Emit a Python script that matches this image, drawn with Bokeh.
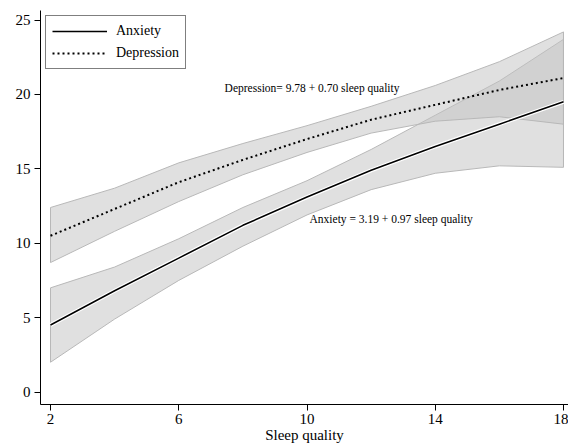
from bokeh.plotting import figure
from bokeh.models import Range1d, FixedTicker, Legend, LegendItem, Label
from bokeh.embed import file_html
from bokeh.resources import INLINE

# Data
sleep_quality = [2, 4, 6, 8, 10, 12, 14, 16, 18]
anxiety = [4.5, 6.8, 9.0, 11.2, 13.1, 14.9, 16.5, 18.0, 19.5]
anxiety_upper = [7.0, 8.4, 10.3, 12.4, 14.2, 16.3, 18.6, 20.9, 23.7]
anxiety_lower = [2.0, 4.9, 7.5, 9.8, 11.9, 13.6, 14.7, 15.2, 15.1]
depression = [10.5, 12.3, 14.1, 15.6, 17.0, 18.3, 19.3, 20.3, 21.1]
depression_upper = [12.4, 13.7, 15.4, 16.7, 17.9, 19.2, 20.6, 22.2, 24.2]
depression_lower = [8.7, 10.8, 12.8, 14.6, 16.1, 17.4, 18.2, 18.5, 18.0]
x_ticks = [2, 6, 10, 14, 18]
y_ticks = [0, 5, 10, 15, 20, 25]
series_names = ["Anxiety", "Depression"]
eq_depression = "Depression= 9.78 + 0.70 sleep quality"
eq_anxiety = "Anxiety = 3.19 + 0.97 sleep quality"
x_title = "Sleep quality"

FONT = "Liberation Serif"

p = figure(width=568, height=445, output_backend="svg", toolbar_location=None,
           x_range=Range1d(1.688, 18.156), y_range=Range1d(-0.84, 25.64),
           min_border_left=40, min_border_right=0, min_border_top=10, min_border_bottom=41)
p.outline_line_color = None
p.background_fill_color = "white"
p.border_fill_color = "white"
p.xgrid.visible = False
p.ygrid.visible = False

# Confidence bands
def band(lower, upper):
    xs = list(sleep_quality) + list(reversed(sleep_quality))
    ys = list(upper) + list(reversed(lower))
    p.patch(xs, ys, fill_color="#c1c1c1", fill_alpha=0.5,
            line_color="#b8b8b8", line_width=1)

band(anxiety_lower, anxiety_upper)
band(depression_lower, depression_upper)

# Lines
p.line(sleep_quality, anxiety, line_color="white", line_width=4)
l_anx = p.line(sleep_quality, anxiety, line_color="black", line_width=1.6)
l_dep = p.line(sleep_quality, depression, line_color="black", line_width=2,
               line_dash="2 3")

legend = Legend(items=[LegendItem(label=series_names[0], renderers=[l_anx]),
                       LegendItem(label=series_names[1], renderers=[l_dep])],
                location="top_left")
legend.margin = 5
legend.padding = 6
legend.spacing = 4
legend.glyph_width = 55
legend.glyph_height = 18
legend.label_standoff = 9
legend.label_text_font = FONT
legend.label_text_font_size = "14px"
legend.label_text_color = "black"
legend.border_line_color = "black"
legend.border_line_width = 1
legend.background_fill_alpha = 1
p.add_layout(legend)

# Equations
p.add_layout(Label(x=7.43, y=20.46, text=eq_depression, text_font=FONT,
                   text_font_size="11.5px", text_baseline="middle", text_color="black"))
p.add_layout(Label(x=10.08, y=11.66, text=eq_anxiety, text_font=FONT,
                   text_font_size="11.5px", text_baseline="middle", text_color="black"))

# Axes
for ax in (p.xaxis[0], p.yaxis[0]):
    ax.axis_line_color = "black"
    ax.axis_line_width = 1
    ax.major_tick_line_color = "black"
    ax.major_tick_out = 6
    ax.major_tick_in = 0
    ax.minor_tick_line_color = None
    ax.major_label_text_font = FONT
    ax.major_label_text_font_size = "15px"
    ax.major_label_text_color = "black"

p.xaxis.ticker = FixedTicker(ticks=x_ticks)
p.yaxis.ticker = FixedTicker(ticks=y_ticks)
p.xaxis.major_label_standoff = 3
p.yaxis.major_label_standoff = 4
p.xaxis.axis_label = x_title
p.xaxis.axis_label_text_font = FONT
p.xaxis.axis_label_text_font_style = "normal"
p.xaxis.axis_label_text_font_size = "15px"
p.xaxis.axis_label_text_color = "black"
p.xaxis.axis_label_standoff = 0

open("out.html", "w").write(file_html(p, INLINE))
